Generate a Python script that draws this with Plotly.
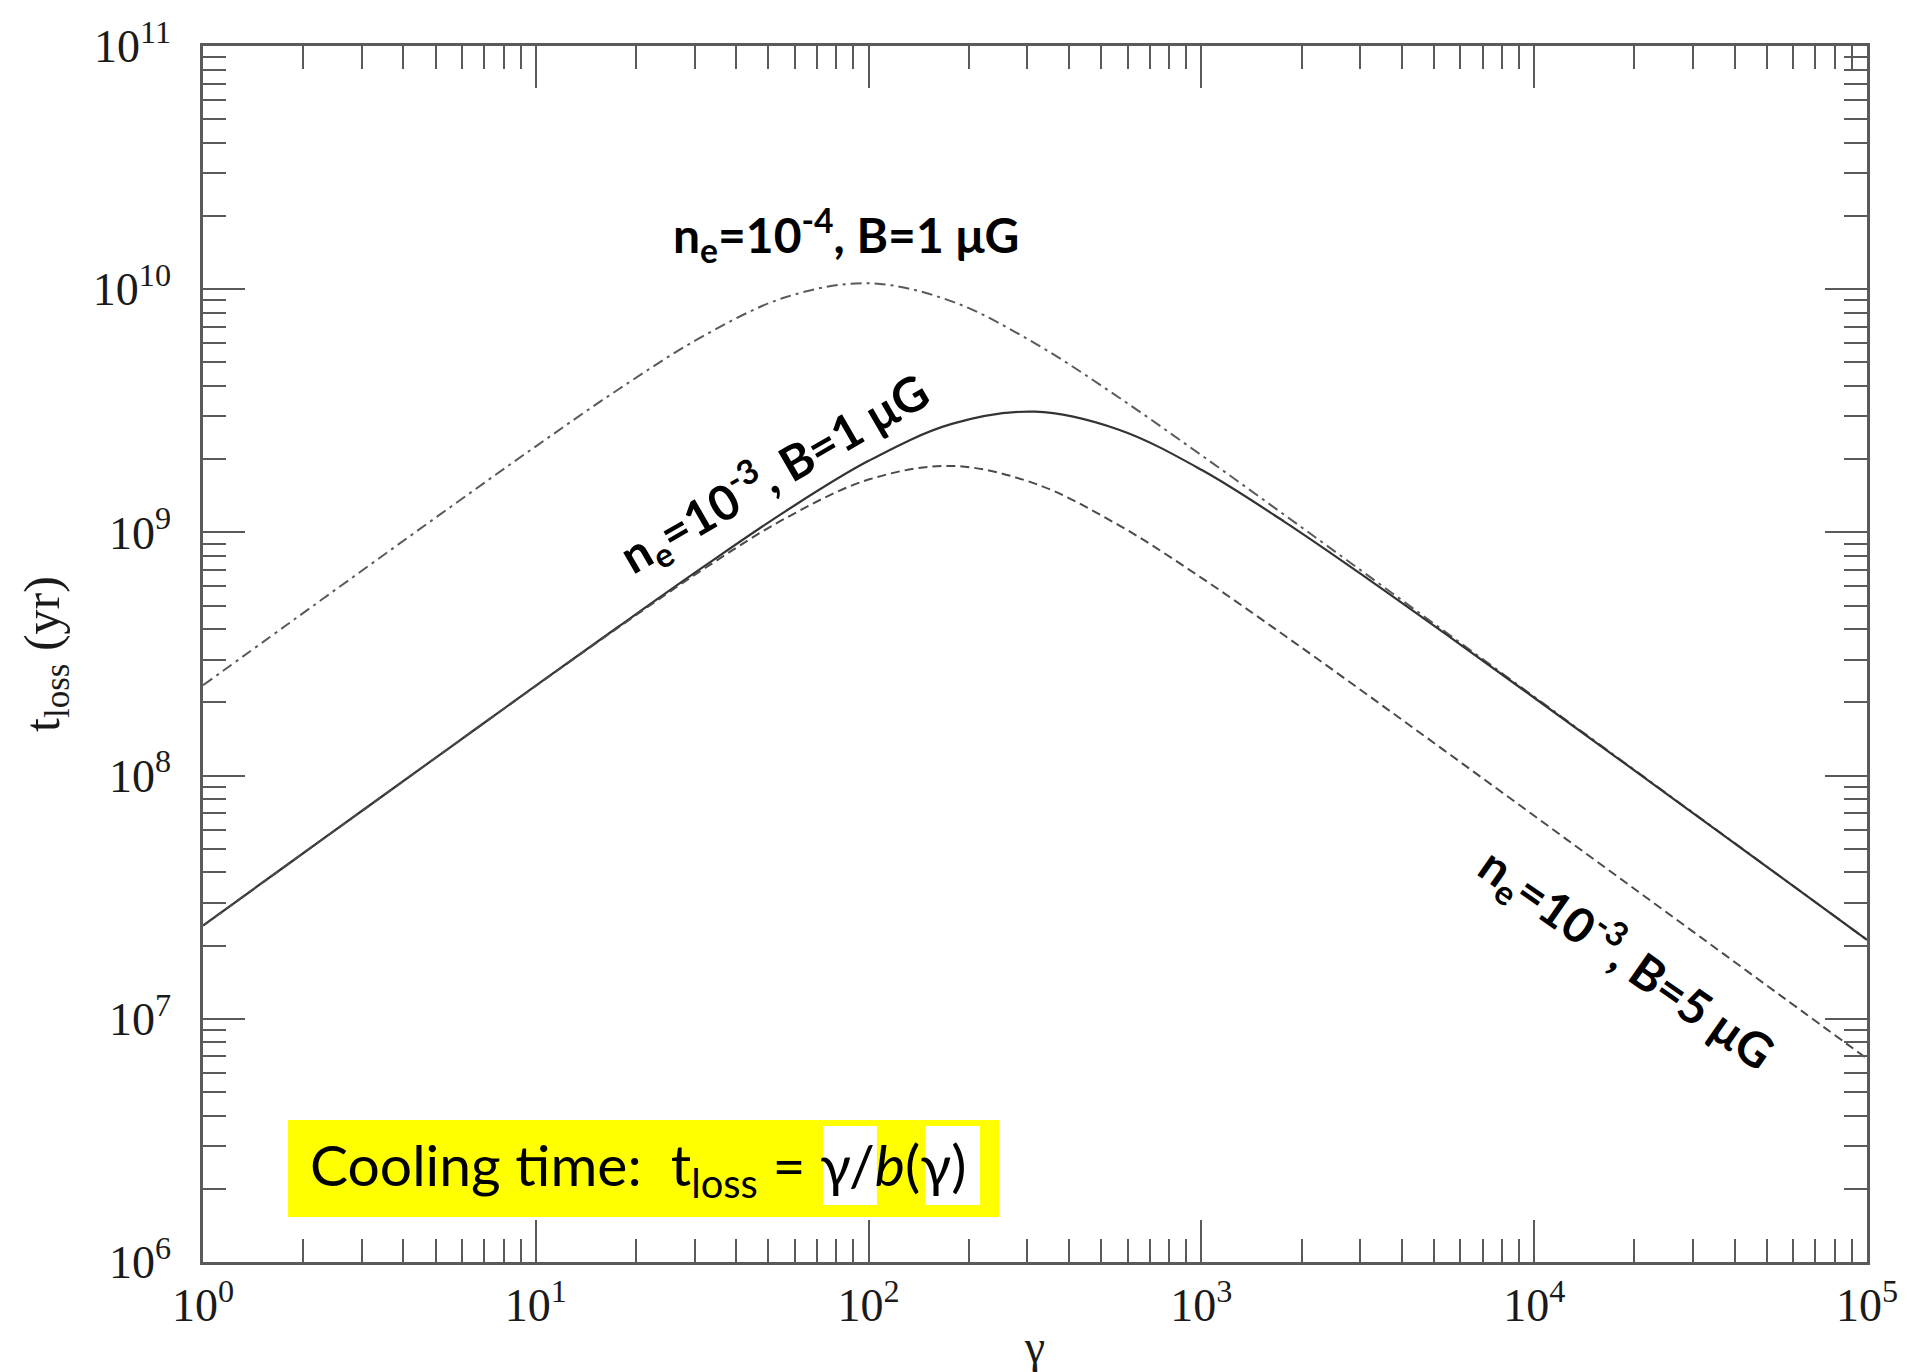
import plotly.graph_objects as go

# ---- data ----
gamma = [1, 1.778, 3.162, 5.623, 10, 17.78, 31.62, 56.23, 100, 177.8, 316.2,
         562.3, 1000, 1778, 3162, 5623, 1.0e4, 1.778e4, 3.162e4, 5.623e4, 1.0e5]

# n_e = 1e-4, B = 1 muG (dash-dot)
t_ne4_B1 = [2.351e8, 4.151e8, 7.325e8, 1.290e9, 2.258e9, 3.887e9, 6.379e9, 9.264e9,
            1.058e10, 8.912e9, 5.989e9, 3.603e9, 2.077e9, 1.179e9, 6.656e8, 3.749e8,
            2.110e8, 1.187e8, 6.678e7, 3.756e7, 2.112e7]

# n_e = 1e-3, B = 1 muG (solid)
t_ne3_B1 = [2.418e7, 4.269e7, 7.535e7, 1.329e8, 2.342e8, 4.113e8, 7.162e8, 1.221e9,
            1.969e9, 2.794e9, 3.136e9, 2.650e9, 1.809e9, 1.105e9, 6.445e8, 3.686e8,
            2.090e8, 1.181e8, 6.657e7, 3.749e7, 2.110e7]

# n_e = 1e-3, B = 5 muG (dashed)
t_ne3_B5 = [2.418e7, 4.268e7, 7.533e7, 1.328e8, 2.337e8, 4.084e8, 7.006e8, 1.143e9,
            1.649e9, 1.876e9, 1.587e9, 1.074e9, 6.504e8, 3.766e8, 2.144e8, 1.212e8,
            6.835e7, 3.849e7, 2.166e7, 1.219e7, 6.856e6]

x_tick_vals = [1, 10, 100, 1000, 1e4, 1e5]
x_tick_text = ["10<sup>0</sup>", "10<sup>1</sup>", "10<sup>2</sup>", "10<sup>3</sup>",
               "10<sup>4</sup>", "10<sup>5</sup>"]
y_tick_vals = [1e6, 1e7, 1e8, 1e9, 1e10, 1e11]
y_tick_text = ["10<sup>6</sup>", "10<sup>7</sup>", "10<sup>8</sup>", "10<sup>9</sup>",
               "10<sup>10</sup>", "10<sup>11</sup>"]

# ---- figure ----
fig = go.Figure()
fig.add_trace(go.Scatter(x=gamma, y=t_ne4_B1, mode="lines",
                         line=dict(color="#5a5a5a", width=2, dash="11px,5px,3px,5px",
                                   shape="spline")))
fig.add_trace(go.Scatter(x=gamma, y=t_ne3_B1, mode="lines",
                         line=dict(color="#333333", width=2.2, shape="spline")))
fig.add_trace(go.Scatter(x=gamma, y=t_ne3_B5, mode="lines",
                         line=dict(color="#4a4a4a", width=2, dash="9px,5px",
                                   shape="spline")))

axis_common = dict(
    type="log", showgrid=False, zeroline=False, automargin=False,
    showline=True, linecolor="#5a5a5a", linewidth=2.5, mirror="allticks",
    ticks="inside", ticklen=42, tickwidth=2, tickcolor="#5a5a5a",
    tickfont=dict(family="Liberation Serif", size=46, color="#1a1a1a"),
    minor=dict(ticks="inside", ticklen=23, tickwidth=2, tickcolor="#5a5a5a",
               dtick="D1", showgrid=False),
)

fig.update_xaxes(range=[0, 5], tickmode="array", tickvals=x_tick_vals,
                 ticktext=x_tick_text, ticklabelstandoff=1,
                 title=dict(text="γ", standoff=12,
                            font=dict(family="Liberation Serif", size=46, color="#1a1a1a")),
                 **axis_common)
fig.update_yaxes(range=[6, 11], tickmode="array", tickvals=y_tick_vals,
                 ticktext=y_tick_text, ticklabelstandoff=20,
                 title=dict(text="t<sub>loss</sub> (yr)", standoff=18,
                            font=dict(family="Liberation Serif", size=50, color="#1a1a1a")),
                 **axis_common)

# yellow formula box and white patches (paper coordinates)
shapes = [
    dict(type="rect", xref="paper", yref="paper", x0=0.0511, x1=0.4784, y0=0.037, y1=0.1168,
         fillcolor="#ffff00", line=dict(width=0), layer="above"),
    dict(type="rect", xref="paper", yref="paper", x0=0.3726, x1=0.4050, y0=0.0469, y1=0.1118,
         fillcolor="#ffffff", line=dict(width=0), layer="above"),
    dict(type="rect", xref="paper", yref="paper", x0=0.4339, x1=0.4669, y0=0.0469, y1=0.1118,
         fillcolor="#ffffff", line=dict(width=0), layer="above"),
]

lab_font = dict(family="Lato", size=48, color="black")
annotations = [
    dict(text="<b>n<sub>e</sub>=10<sup>-4</sup>, B=1 μG</b>", xref="paper", yref="paper",
         x=0.3864, y=0.8445, xanchor="center", yanchor="middle", showarrow=False,
         font=lab_font),
    dict(text="<b>n<sub>e</sub>=10<sup>-3</sup>, B=1 μG</b>", xref="paper", yref="paper",
         x=0.343, y=0.6485, xanchor="center", yanchor="middle", showarrow=False,
         textangle=-30, font=lab_font),
    dict(text="<b>n<sub>e</sub>=10<sup>-3</sup>, B=5 μG</b>", xref="paper", yref="paper",
         x=0.8558, y=0.25, xanchor="center", yanchor="middle", showarrow=False,
         textangle=35, font=lab_font),
    dict(text="Cooling time:  t<sub>loss</sub> = γ/<i>b</i>(γ)", xref="paper", yref="paper",
         x=0.2615, y=0.0773, xanchor="center", yanchor="middle", showarrow=False,
         font=dict(family="Lato", size=57, color="black")),
]

fig.update_layout(
    width=1907, height=1372,
    margin=dict(l=203, r=40, t=46, b=110, autoexpand=False),
    paper_bgcolor="white", plot_bgcolor="white",
    showlegend=False, shapes=shapes, annotations=annotations,
)

fig.write_html("out.html", config={"displayModeBar": False},
               post_script="document.body.style.margin='0';")
